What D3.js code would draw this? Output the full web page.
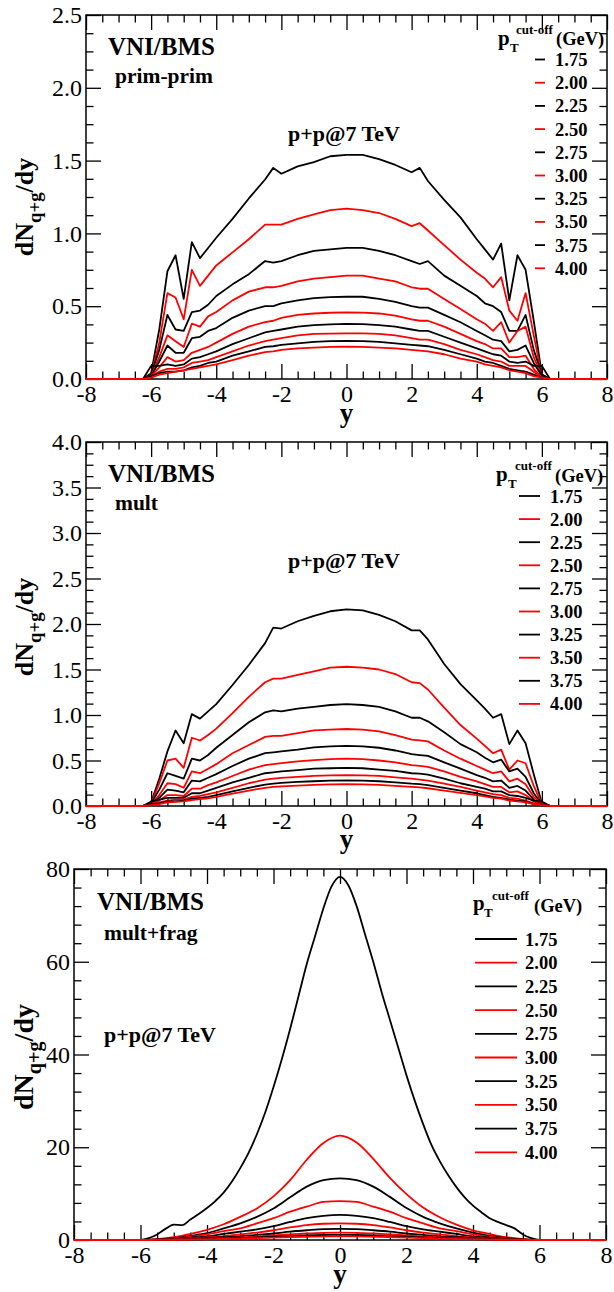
<!DOCTYPE html>
<html><head><meta charset="utf-8">
<script src="https://cdn.jsdelivr.net/npm/d3@7"></script>
<style>
body{margin:0;background:#fff;}
svg text{font-family:"Liberation Serif","Times New Roman",serif;}
</style>
</head><body>
<script>
// ---------------- DATA ----------------
const cutoffs = ["1.75","2.00","2.25","2.50","2.75","3.00","3.25","3.50","3.75","4.00"];
const xTicks = [-8,-6,-4,-2,0,2,4,6,8];
const yTicksPrim = [0,0.5,1,1.5,2,2.5];
const yTicksMult = [0,0.5,1,1.5,2,2.5,3,3.5,4];
const yTicksFrag = [0,20,40,60,80];

// rapidity points for panels "prim-prim" and "mult"
const rapidity = [-8,-6.25,-6,-5.75,-5.5,-5.25,-5,-4.75,-4.5,-4.25,-4,-3.5,-3,-2.5,-2.25,-2,-1.5,-1,-0.5,0,0.5,1,1.5,2,2.25,2.5,3,3.5,4,4.25,4.5,4.75,5,5.25,5.5,5.75,6,6.25,8];

const primPrim175 = [0,0,0.04,0.34,0.74,0.85,0.55,0.94,0.83,0.90,0.97,1.10,1.24,1.37,1.45,1.41,1.46,1.49,1.53,1.54,1.54,1.51,1.47,1.42,1.45,1.36,1.23,1.11,0.96,0.89,0.82,0.93,0.54,0.85,0.75,0.40,0.03,0,0];
const primPrim200 = [0,0,0.03,0.25,0.59,0.56,0.41,0.75,0.64,0.71,0.78,0.87,0.96,1.06,1.06,1.06,1.10,1.13,1.16,1.17,1.16,1.14,1.10,1.05,1.07,1.02,0.92,0.82,0.73,0.69,0.63,0.70,0.47,0.40,0.59,0.30,0.02,0,0];
const primPrim225 = [0,0,0.03,0.20,0.44,0.34,0.33,0.46,0.47,0.51,0.57,0.65,0.72,0.81,0.80,0.81,0.85,0.88,0.89,0.90,0.90,0.88,0.85,0.81,0.79,0.81,0.71,0.64,0.57,0.52,0.50,0.46,0.33,0.33,0.44,0.20,0.03,0,0];
const primPrim250 = [0,0,0.02,0.15,0.30,0.26,0.22,0.38,0.36,0.43,0.46,0.54,0.60,0.63,0.63,0.64,0.67,0.69,0.70,0.71,0.71,0.69,0.67,0.63,0.62,0.62,0.55,0.48,0.41,0.38,0.33,0.39,0.25,0.33,0.36,0.15,0.02,0,0];
const primPrim275 = [0,0,0.02,0.12,0.23,0.18,0.18,0.28,0.29,0.33,0.35,0.42,0.47,0.50,0.50,0.52,0.54,0.555,0.562,0.565,0.565,0.55,0.53,0.50,0.49,0.49,0.44,0.39,0.33,0.30,0.27,0.26,0.19,0.20,0.23,0.11,0.02,0,0];
const primPrim300 = [0,0,0.02,0.08,0.15,0.12,0.13,0.18,0.20,0.22,0.25,0.31,0.36,0.39,0.40,0.42,0.44,0.45,0.455,0.458,0.456,0.45,0.435,0.41,0.40,0.40,0.36,0.31,0.26,0.24,0.21,0.21,0.15,0.15,0.16,0.07,0.01,0,0];
const primPrim325 = [0,0,0.09,0.09,0.10,0.09,0.10,0.14,0.15,0.17,0.19,0.24,0.28,0.32,0.33,0.34,0.36,0.37,0.375,0.378,0.377,0.37,0.36,0.34,0.33,0.33,0.29,0.25,0.21,0.19,0.17,0.16,0.12,0.11,0.12,0.09,0.09,0,0];
const primPrim350 = [0,0,0.02,0.05,0.07,0.07,0.08,0.11,0.12,0.13,0.15,0.19,0.23,0.26,0.27,0.28,0.30,0.31,0.312,0.314,0.313,0.31,0.30,0.28,0.27,0.27,0.24,0.20,0.17,0.15,0.13,0.12,0.09,0.09,0.09,0.05,0.01,0,0];
const primPrim375 = [0,0,0.02,0.04,0.05,0.05,0.06,0.08,0.09,0.11,0.12,0.16,0.19,0.22,0.225,0.235,0.245,0.255,0.26,0.261,0.26,0.255,0.245,0.235,0.23,0.225,0.20,0.17,0.14,0.12,0.11,0.09,0.07,0.06,0.05,0.03,0.01,0,0];
const primPrim400 = [0,0,0.01,0.03,0.04,0.05,0.06,0.07,0.08,0.09,0.10,0.13,0.16,0.185,0.19,0.20,0.21,0.215,0.22,0.222,0.221,0.215,0.21,0.20,0.195,0.19,0.17,0.14,0.12,0.10,0.09,0.08,0.06,0.05,0.04,0.02,0.01,0,0];

const mult175 = [0,0,0.04,0.30,0.60,0.83,0.69,1.01,0.96,1.04,1.12,1.33,1.55,1.79,1.96,1.95,2.03,2.09,2.14,2.16,2.15,2.10,2.03,1.93,1.93,1.83,1.56,1.34,1.16,1.07,0.97,1.01,0.68,0.83,0.69,0.35,0.03,0,0];
const mult200 = [0,0,0.03,0.25,0.50,0.52,0.42,0.75,0.72,0.78,0.85,1.02,1.20,1.36,1.40,1.40,1.44,1.48,1.52,1.53,1.52,1.50,1.45,1.36,1.35,1.28,1.08,0.89,0.74,0.66,0.58,0.62,0.40,0.50,0.47,0.22,0.02,0,0];
const mult225 = [0,0,0.03,0.18,0.36,0.33,0.30,0.52,0.50,0.56,0.64,0.78,0.92,1.03,1.05,1.04,1.07,1.09,1.11,1.12,1.11,1.09,1.04,0.97,0.97,0.93,0.81,0.68,0.59,0.53,0.48,0.51,0.38,0.41,0.32,0.14,0.02,0,0];
const mult250 = [0,0,0.02,0.12,0.25,0.24,0.20,0.38,0.36,0.41,0.46,0.58,0.67,0.76,0.77,0.77,0.80,0.83,0.84,0.846,0.84,0.82,0.78,0.73,0.72,0.71,0.61,0.52,0.44,0.40,0.36,0.38,0.27,0.30,0.24,0.10,0.02,0,0];
const mult275 = [0,0,0.02,0.09,0.18,0.17,0.15,0.28,0.27,0.31,0.35,0.44,0.52,0.58,0.59,0.60,0.62,0.645,0.655,0.66,0.655,0.64,0.61,0.57,0.56,0.55,0.48,0.41,0.34,0.31,0.27,0.28,0.20,0.22,0.17,0.07,0.01,0,0];
const mult300 = [0,0,0.02,0.06,0.12,0.12,0.11,0.19,0.19,0.23,0.26,0.33,0.40,0.45,0.46,0.47,0.49,0.505,0.515,0.52,0.515,0.50,0.48,0.45,0.44,0.43,0.38,0.32,0.27,0.24,0.21,0.21,0.15,0.16,0.12,0.05,0.01,0,0];
const mult325 = [0,0,0.05,0.07,0.09,0.09,0.09,0.14,0.14,0.17,0.20,0.26,0.31,0.36,0.37,0.38,0.395,0.41,0.415,0.42,0.415,0.40,0.385,0.36,0.355,0.345,0.30,0.25,0.21,0.19,0.16,0.16,0.12,0.11,0.09,0.06,0.05,0,0];
const mult350 = [0,0,0.02,0.04,0.06,0.07,0.07,0.10,0.11,0.13,0.15,0.20,0.25,0.29,0.30,0.31,0.32,0.33,0.336,0.34,0.337,0.33,0.315,0.30,0.29,0.28,0.245,0.21,0.17,0.15,0.13,0.12,0.09,0.08,0.06,0.03,0.01,0,0];
const mult375 = [0,0,0.02,0.03,0.05,0.05,0.06,0.08,0.09,0.10,0.12,0.16,0.20,0.235,0.245,0.255,0.265,0.272,0.278,0.28,0.278,0.272,0.26,0.245,0.24,0.23,0.20,0.17,0.14,0.12,0.10,0.09,0.07,0.06,0.05,0.02,0.01,0,0];
const mult400 = [0,0,0.01,0.02,0.04,0.045,0.05,0.065,0.075,0.085,0.10,0.135,0.17,0.20,0.21,0.215,0.225,0.232,0.237,0.24,0.238,0.232,0.222,0.21,0.205,0.195,0.17,0.145,0.12,0.105,0.09,0.08,0.06,0.05,0.04,0.02,0.01,0,0];

// mult+frag panel
const rapidityFine = [-8,-6,-5.75,-5.5,-5.25,-5,-4.75,-4.5,-4.25,-4,-3.75,-3.5,-3.25,-3,-2.75,-2.5,-2.25,-2,-1.75,-1.5,-1.25,-1,-0.75,-0.5,-0.25,0,0.25,0.5,0.75,1,1.25,1.5,1.75,2,2.25,2.5,2.75,3,3.25,3.5,3.75,4,4.25,4.5,4.75,5,5.25,5.5,5.75,6,8];
const multFrag175 = [0,0,0.4,1.2,2.4,3.3,3.2,4.4,5.6,6.9,8.4,10.2,12.6,15.5,18.8,22.8,27.5,33.0,39.0,45.5,52.5,59.5,65.5,71.5,76.3,78.3,76.5,72.0,66.0,60.0,53.5,47.5,41.5,35.5,30.0,25.0,20.5,17.0,14.0,11.4,9.2,7.4,6.0,4.7,3.9,3.2,2.5,1.2,0.4,0,0];
const rapidityCoarse = [-8,-6,-5.5,-5,-4.5,-4,-3.5,-3,-2.5,-2,-1.5,-1,-0.5,0,0.5,1,1.5,2,2.5,3,3.5,4,4.5,5,5.5,6,8];
const multFrag200 = [0,0,0.2,0.6,1.3,2.2,3.4,5.0,6.8,9.4,12.9,17.3,20.9,22.5,21.0,17.5,13.4,9.9,7.0,4.9,3.3,2.1,1.3,0.6,0.2,0,0];
const multFrag225 = [0,0,0.1,0.4,0.9,1.5,2.5,3.6,5.0,6.8,9.2,11.5,12.9,13.3,12.9,11.5,9.3,6.9,5.0,3.6,2.5,1.6,0.9,0.4,0.1,0,0];
const multFrag250 = [0,0,0.1,0.3,0.7,1.2,1.9,2.5,3.6,4.7,6.1,7.2,8.2,8.4,8.2,7.2,6.1,4.7,3.6,2.5,1.9,1.2,0.7,0.3,0.1,0,0];
const multFrag275 = [0,0,0.1,0.2,0.5,0.8,1.3,1.8,2.3,3.0,3.9,4.7,5.2,5.4,5.2,4.7,3.9,3.0,2.3,1.8,1.3,0.8,0.5,0.2,0.1,0,0];
const multFrag300 = [0,0,0.05,0.15,0.35,0.55,0.85,1.2,1.6,2.1,2.7,3.2,3.5,3.6,3.5,3.2,2.7,2.1,1.6,1.2,0.85,0.55,0.35,0.15,0.05,0,0];
const multFrag325 = [0,0,0.05,0.1,0.25,0.4,0.6,0.8,1.1,1.4,1.8,2.1,2.35,2.4,2.35,2.1,1.8,1.4,1.1,0.8,0.6,0.4,0.25,0.1,0.05,0,0];
const multFrag350 = [0,0,0.03,0.08,0.18,0.3,0.4,0.55,0.75,1.0,1.2,1.4,1.55,1.6,1.55,1.4,1.2,1.0,0.75,0.55,0.4,0.3,0.18,0.08,0.03,0,0];
const multFrag375 = [0,0,0.02,0.06,0.12,0.2,0.3,0.4,0.55,0.7,0.85,1.0,1.08,1.1,1.08,1.0,0.85,0.7,0.55,0.4,0.3,0.2,0.12,0.06,0.02,0,0];
const multFrag400 = [0,0,0.01,0.04,0.09,0.15,0.22,0.3,0.4,0.5,0.6,0.7,0.78,0.8,0.78,0.7,0.6,0.5,0.4,0.3,0.22,0.15,0.09,0.04,0.01,0,0];

// ---------------- DRAWING ----------------
const lineColors = ["#000000","#ff0000"];
const FONT = '"Liberation Serif","Times New Roman",serif';
const svg = d3.select("body").append("svg").attr("width",614).attr("height",1292);

function drawPanel(p){
  const x = d3.scaleLinear().domain([-8,8]).range([p.left,p.right]);
  const y = d3.scaleLinear().domain([0,p.ymax]).range([p.bottom,p.top]);
  const g = svg.append("g");
  const MAJ = 15, MIN = 7.5;
  const xMinor = d3.range(-8,8.0001,0.5).filter(v => !xTicks.some(t => Math.abs(t-v) < 1e-9));
  const yMinor = d3.range(0,p.ymax+1e-9,p.yMinorStep).filter(v => !p.yTicks.some(t => Math.abs(t-v) < 1e-9));

  function addAxis(axis, tr){
    const a = g.append("g").attr("transform",tr).call(axis);
    a.attr("font-family",FONT).attr("font-size",24);
    a.select(".domain").remove();
    a.selectAll(".tick line").attr("stroke","#000").attr("stroke-width",1.3);
    a.selectAll("text").attr("font-family",FONT).attr("font-size",24)
      .style("font-size","24px").style("font-family",FONT).attr("fill","#000");
    return a;
  }
  addAxis(d3.axisBottom(x).tickValues(xTicks).tickSize(-MAJ).tickPadding(6).tickFormat(d=>String(d)), `translate(0,${p.bottom})`);
  addAxis(d3.axisBottom(x).tickValues(xMinor).tickSize(-MIN).tickFormat(""), `translate(0,${p.bottom})`);
  addAxis(d3.axisTop(x).tickValues(xTicks).tickSize(-MAJ).tickFormat(""), `translate(0,${p.top})`);
  addAxis(d3.axisTop(x).tickValues(xMinor).tickSize(-MIN).tickFormat(""), `translate(0,${p.top})`);
  addAxis(d3.axisLeft(y).tickValues(p.yTicks).tickSize(-MAJ).tickPadding(4).tickFormat(p.yFmt), `translate(${p.left},0)`);
  addAxis(d3.axisLeft(y).tickValues(yMinor).tickSize(-MIN).tickFormat(""), `translate(${p.left},0)`);
  addAxis(d3.axisRight(y).tickValues(p.yTicks).tickSize(-MAJ).tickFormat(""), `translate(${p.right},0)`);
  addAxis(d3.axisRight(y).tickValues(yMinor).tickSize(-MIN).tickFormat(""), `translate(${p.right},0)`);

  g.append("rect").attr("x",p.left).attr("y",p.top).attr("width",p.right-p.left).attr("height",p.bottom-p.top)
    .attr("fill","none").attr("stroke","#000").attr("stroke-width",1.5);

  // curves
  const line = d3.line().x(d=>x(d[0])).y(d=>y(d[1])).curve(p.curve);
  p.series.forEach((s,i)=>{
    const pts = s.xs.map((xv,j)=>[xv,s.vals[j]]);
    g.append("path").datum(pts).attr("d",line).attr("fill","none")
      .attr("stroke",lineColors[i%2]).attr("stroke-width",1.8).attr("stroke-linejoin","round");
  });

  // axis titles
  const lab = svg.append("text").attr("transform",`translate(${p.labX},${p.labY}) rotate(-90)`)
    .attr("text-anchor","middle").style("font-weight","bold").style("font-size",p.labSize+"px");
  lab.append("tspan").text("dN");
  lab.append("tspan").attr("dy",p.labSize*0.3).style("font-size",(p.labSize*0.72)+"px").text("q+g");
  lab.append("tspan").attr("dy",-p.labSize*0.3).text("/dy");
  svg.append("text").attr("x",(p.left+p.right)/2).attr("y",p.yLabY).attr("text-anchor","middle")
    .style("font-weight","bold").style("font-size","27px").text("y");

  // annotations
  const bold = (t,xx,yy,fs)=>svg.append("text").attr("x",xx).attr("y",yy).style("font-weight","bold").style("font-size",fs+"px").text(t);
  bold("VNI/BMS",p.t1[0],p.t1[1],25);
  bold(p.subtitle,p.t2[0],p.t2[1],21.5);
  bold("p+p@7 TeV",p.t3[0],p.t3[1],22);

  // legend header
  const h = p.head;
  bold("p",h.p[0],h.p[1],21);
  bold("T",h.T[0],h.T[1],13);
  bold("cut-off",h.c[0],h.c[1],13);
  bold("(GeV)",h.g[0],h.g[1],18.5);
  cutoffs.forEach((c,i)=>{
    const ry = p.leg.y0 + i*p.leg.dy;
    svg.append("line").attr("x1",p.leg.x1).attr("x2",p.leg.x2).attr("y1",ry).attr("y2",ry)
      .attr("stroke",lineColors[i%2]).attr("stroke-width",1.8);
    bold(c,p.leg.tx,ry+6.5,18.5);
  });
}

const fmt1 = d3.format(".1f");
drawPanel({
  left:86,right:607,top:15,bottom:379,ymax:2.5,yTicks:yTicksPrim,yMinorStep:0.125,yFmt:fmt1,
  curve:d3.curveLinear,
  series:[primPrim175,primPrim200,primPrim225,primPrim250,primPrim275,primPrim300,primPrim325,primPrim350,primPrim375,primPrim400].map(v=>({xs:rapidity,vals:v})),
  labX:33,labY:207,labSize:26,yLabY:422,
  subtitle:"prim-prim",t1:[108,55],t2:[115,83],t3:[288,141],
  head:{p:[498,45],T:[510,52],c:[516,34],g:[556,45]},
  leg:{x1:535,x2:545,tx:555,y0:59.5,dy:23.2}
});
drawPanel({
  left:86,right:607,top:442,bottom:806,ymax:4,yTicks:yTicksMult,yMinorStep:0.125,yFmt:fmt1,
  curve:d3.curveLinear,
  series:[mult175,mult200,mult225,mult250,mult275,mult300,mult325,mult350,mult375,mult400].map(v=>({xs:rapidity,vals:v})),
  labX:33,labY:627,labSize:26,yLabY:848,
  subtitle:"mult",t1:[108,482],t2:[115,510],t3:[288,568],
  head:{p:[496,481],T:[508,488],c:[515,470],g:[555,482]},
  leg:{x1:519,x2:540,tx:550,y0:496,dy:23.1}
});
drawPanel({
  left:74,right:606,top:869,bottom:1240,ymax:80,yTicks:yTicksFrag,yMinorStep:4,yFmt:d3.format("d"),
  curve:d3.curveMonotoneX,
  series:[{xs:rapidityFine,vals:multFrag175}].concat([multFrag200,multFrag225,multFrag250,multFrag275,multFrag300,multFrag325,multFrag350,multFrag375,multFrag400].map(v=>({xs:rapidityCoarse,vals:v}))),
  labX:33,labY:1057,labSize:28,yLabY:1283,
  subtitle:"mult+frag",t1:[97,910],t2:[104,940],t3:[104,1042],
  head:{p:[473,910],T:[484,917],c:[492,900],g:[534,912]},
  leg:{x1:475,x2:517,tx:525,y0:939,dy:23.7}
});
</script>
</body></html>
